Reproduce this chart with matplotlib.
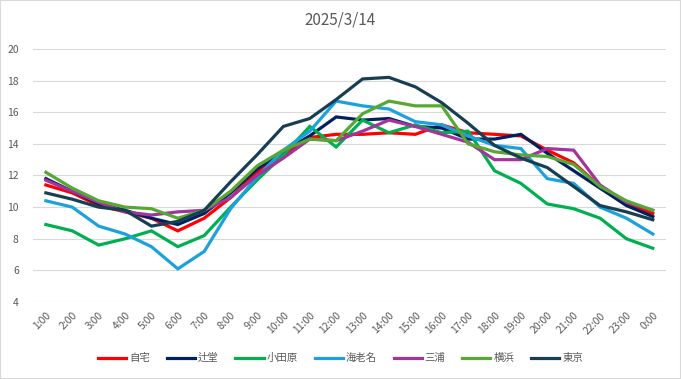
import matplotlib
matplotlib.use("Agg")
import matplotlib.pyplot as plt
from matplotlib.patches import Rectangle

plt.rcParams['font.family'] = ['Noto Sans CJK JP', 'DejaVu Sans']

# hourly temperature data 2025/3/14
hours = ["1:00", "2:00", "3:00", "4:00", "5:00", "6:00", "7:00", "8:00",
         "9:00", "10:00", "11:00", "12:00", "13:00", "14:00", "15:00", "16:00",
         "17:00", "18:00", "19:00", "20:00", "21:00", "22:00", "23:00", "0:00"]

jitaku = [11.4, 10.9, 10.1, 9.7, 9.3, 8.5, 9.3, 10.6, 12.2, 13.3, 14.4, 14.6,
          14.6, 14.7, 14.6, 15.2, 14.7, 14.6, 14.5, 13.6, 12.8, 11.3, 10.2, 9.6]
tsujido = [11.8, 11.0, 10.2, 9.8, 9.3, 8.9, 9.6, 10.9, 12.4, 13.5, 14.5, 15.7,
           15.5, 15.6, 15.1, 15.0, 14.3, 14.3, 14.6, 13.4, 12.3, 11.2, 10.1, 9.4]
odawara = [8.9, 8.5, 7.6, 8.0, 8.5, 7.5, 8.2, 10.0, 11.7, 13.3, 15.1, 13.8,
           15.5, 14.7, 15.2, 14.7, 14.8, 12.3, 11.5, 10.2, 9.9, 9.3, 8.0, 7.4]
ebina = [10.4, 10.0, 8.8, 8.3, 7.5, 6.1, 7.2, 9.9, 11.9, 13.6, 14.8, 16.7,
         16.4, 16.2, 15.4, 15.2, 14.5, 13.9, 13.7, 11.8, 11.5, 10.0, 9.3, 8.3]
miura = [11.7, 11.0, 10.3, 9.7, 9.5, 9.7, 9.8, 10.6, 12.0, 13.1, 14.3, 14.2,
         14.8, 15.5, 15.1, 14.6, 14.1, 13.0, 13.0, 13.7, 13.6, 11.4, 10.3, 9.8]
yokohama = [12.2, 11.2, 10.4, 10.0, 9.9, 9.3, 9.8, 11.0, 12.6, 13.6, 14.3, 14.2,
            15.9, 16.7, 16.4, 16.4, 14.0, 13.5, 13.3, 13.2, 12.7, 11.3, 10.4, 9.8]
tokyo = [10.9, 10.5, 10.0, 9.8, 8.8, 9.1, 9.8, 11.6, 13.3, 15.1, 15.6, 16.8,
         18.1, 18.2, 17.6, 16.6, 15.3, 13.9, 13.1, 12.5, 11.3, 10.1, 9.7, 9.2]

names = ["自宅", "辻堂", "小田原", "海老名", "三浦", "横浜", "東京"]
series = [jitaku, tsujido, odawara, ebina, miura, yokohama, tokyo]
colors = ["#FF0000", "#002060", "#00B050", "#1BA1DD", "#A2349E", "#57A832", "#173E52"]

fig = plt.figure(figsize=(6.81, 3.79), dpi=100)
ax = fig.add_axes([0.048, 0.203, 0.930, 0.668])

x = list(range(len(hours)))
for name, vals, c in zip(names, series, colors):
    ax.plot(x, vals, color=c, lw=2.3, label=name, solid_joinstyle='miter')

ax.set_xlim(-0.5, len(hours) - 0.5)
ax.set_ylim(4, 20)
ax.set_yticks(range(4, 21, 2))
ax.set_xticks(x)
ax.set_xticklabels(hours, rotation=45, ha='right', rotation_mode='anchor')
ax.tick_params(axis='both', length=0, colors='#595959', labelsize=7.5)
ax.tick_params(axis='x', pad=6)
ax.tick_params(axis='y', pad=10)
ax.grid(axis='y', color='#D9D9D9', lw=0.8)
ax.set_axisbelow(True)
for s in ax.spines.values():
    s.set_visible(False)

fig.text(0.5, 0.948, "2025/3/14", ha='center', va='center', fontsize=11, color='#595959')

fig.legend(loc='center', bbox_to_anchor=(0.5, 0.055), ncol=7, frameon=False,
           fontsize=7.5, handlelength=2.7, handletextpad=0.3, columnspacing=1.6,
           labelcolor='#595959')

fig.patches.append(Rectangle((0, 0), 1, 1, transform=fig.transFigure, fill=False,
                             edgecolor='#D9D9D9', lw=1.5))

fig.savefig("out.png", dpi=100)
